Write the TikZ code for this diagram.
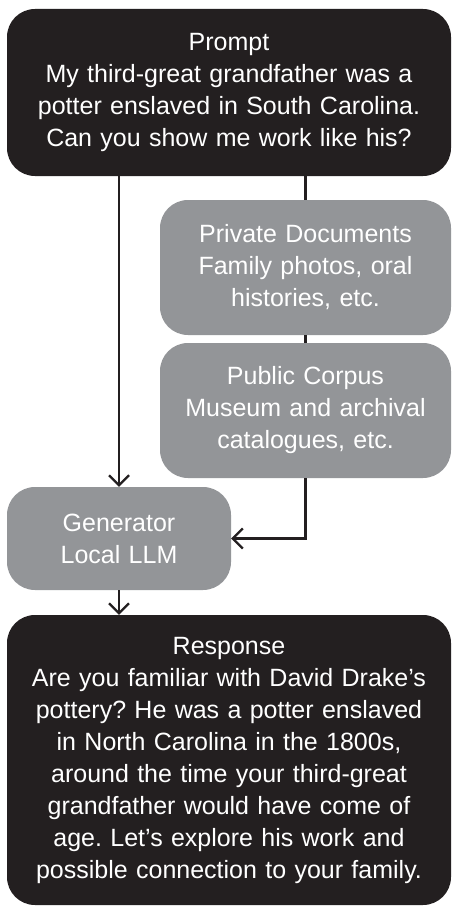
\documentclass[tikz,border=0pt]{standalone}
\usepackage{fontspec}
\setmainfont{Liberation Sans}
\usetikzlibrary{arrows.meta}
\definecolor{inkblack}{HTML}{231F20}
\definecolor{slategray}{HTML}{939598}
\frenchspacing
\begin{document}
\begin{tikzpicture}[x=1pt,y=1pt,
		box/.style={rounded corners=28pt,text=white,align=center,inner sep=0pt,
			font=\fontsize{25}{32}\selectfont},
		dark/.style={box,fill=inkblack},
		light/.style={box,fill=slategray},
		link/.style={draw=inkblack,line width=2.2pt},
		flow/.style={link,-{Straight Barb[length=10pt,width=20pt,line width=2.2pt]}}]
			\useasboundingbox (0,0) rectangle (451,-907);
			\node(prompt)[dark,minimum width=444pt,minimum height=167pt,text width=430pt] at (229,-92.5)
				{Prompt\\My third-great grandfather was a\\potter enslaved in South Carolina.\\Can you show me work like his?};
			\node(priv)[light,minimum width=291pt,minimum height=135pt,text width=280pt] at (305.5,-267.5)
				{Private Documents\\Family photos, oral\\histories, etc.};
			\node(pub)[light,minimum width=291pt,minimum height=135pt,text width=280pt] at (305.5,-410.5)
				{Public Corpus\\Museum and archival\\catalogues, etc.};
			\node(gen)[light,minimum width=224pt,minimum height=103pt,text width=210pt] at (119,-538.5)
				{Generator\\Local LLM};
			\node(resp)[dark,minimum width=444pt,minimum height=290pt,text width=430pt] at (229,-760)
				{Response\\Are you familiar with David Drake’s\\pottery? He was a potter enslaved\\in North Carolina in the 1800s,\\around the time your third-great\\grandfather would have come of\\age. Let’s explore his work and\\possible connection to your family.};
			\draw[flow] (gen.north |- prompt.south) -- (gen.north);
			\draw[link] (priv.north |- prompt.south) -- (priv.north);
			\draw[link] (priv.south) -- (pub.north);
			\draw[flow] (pub.south) |- (gen.east);
			\draw[flow] (gen.south) -- (gen.south |- resp.north);
	\end{tikzpicture}
\end{document}
